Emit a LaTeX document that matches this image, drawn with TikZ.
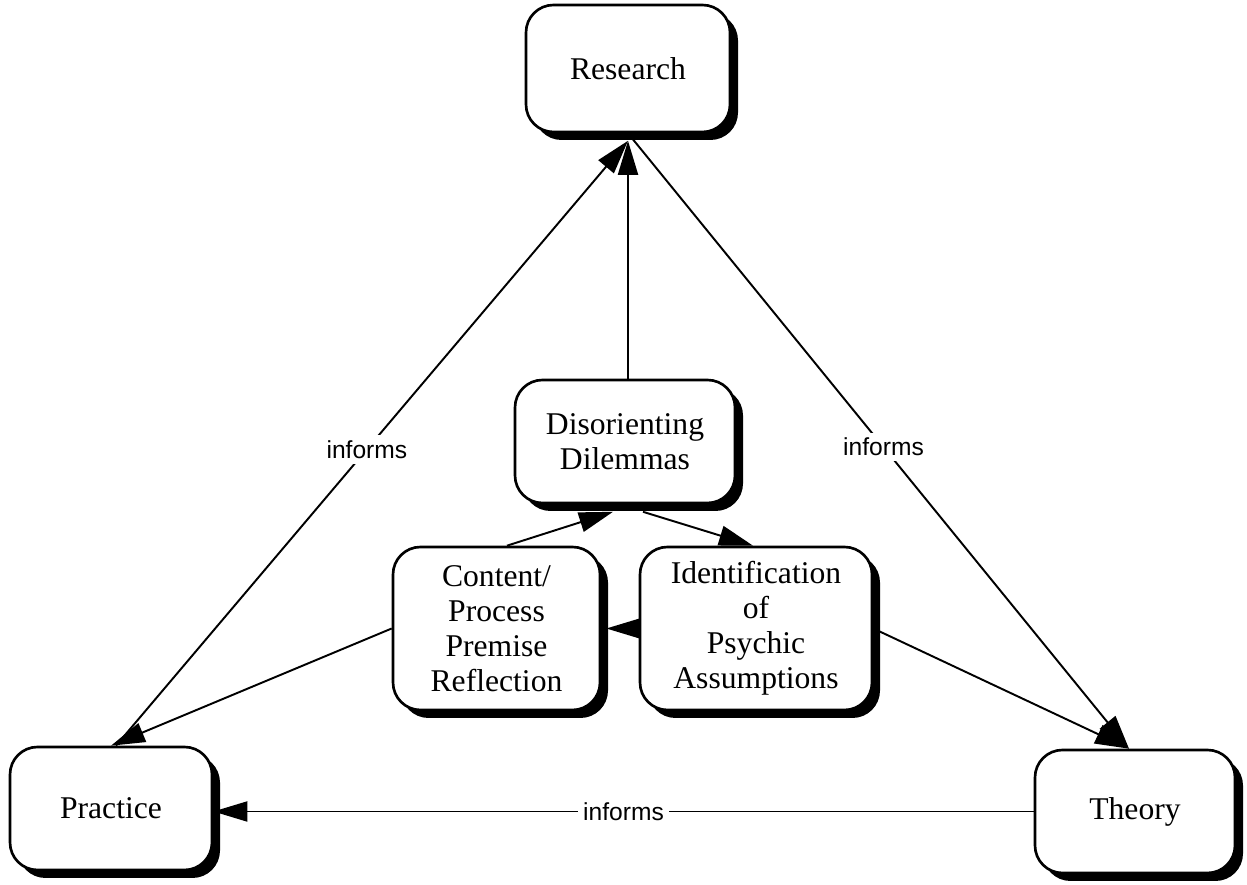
\documentclass[tikz,border=0pt]{standalone}
\usepackage{fontspec}
\setmainfont{Liberation Serif}
\newfontfamily\labelfont{Liberation Sans}
\usetikzlibrary{arrows.meta,shadows}

\begin{document}
\begin{tikzpicture}[x=1cm,y=1cm,box/.style={draw,line width=1.5pt,rounded corners=0.55cm,fill=white,align=center,inner sep=0pt,font=\fontsize{18}{20}\selectfont,drop shadow={shadow xshift=0.16cm,shadow yshift=-0.16cm,fill=black,opacity=1}},link/.style={line width=1.1pt,-{Triangle[length=0.68cm,width=0.4cm]}},lbl/.style={fill=white,inner sep=3pt,font=\labelfont\fontsize{14}{16}\selectfont}]
\useasboundingbox (0,0) rectangle (24.94,17.7);
\node[box,minimum width=4.08cm,minimum height=2.54cm] (R) at (12.56,16.33) {Research};
\node[box,minimum width=4.4cm,minimum height=2.46cm] (D) at (12.5,8.87) {Disorienting\\Dilemmas};
\node[box,minimum width=4.14cm,minimum height=3.26cm] (C) at (9.93,5.13) {Content/\\Process\\Premise\\Reflection};
\node[box,minimum width=4.64cm,minimum height=3.26cm] (I) at (15.12,5.13) {Identification\\of\\Psychic\\Assumptions};
\node[box,minimum width=4.04cm,minimum height=2.46cm] (P) at (2.22,1.53) {Practice};
\node[box,minimum width=4cm,minimum height=2.46cm] (T) at (22.7,1.47) {Theory};
\coordinate (Rb) at ([yshift=-0.15cm]R.south);
\coordinate (Tt) at ([xshift=-0.12cm]T.north);
\draw[link] ([xshift=0.1cm]P.north) -- (Rb) node[lbl,pos=0.49] {informs};
\draw[link] (R.south) -- (Tt) node[lbl,pos=0.51] {informs};
\draw[link] (T.west) -- (T.west -| P.east) node[lbl,midway] {informs};
\draw[link] (D.north -| R.south) -- (Rb);
\draw[link] ([xshift=0.21cm]C.north) -- ([xshift=-0.24cm,yshift=-0.15cm]D.south);
\draw[link] ([xshift=0.36cm,yshift=-0.15cm]D.south) -- ([xshift=-0.06cm]I.north);
\draw[link] (I.west) -- ([xshift=0.1cm]C.east);
\draw[link] (C.west) -- (P.north);
\draw[link] (I.east) -- (Tt);
\end{tikzpicture}
\end{document}
